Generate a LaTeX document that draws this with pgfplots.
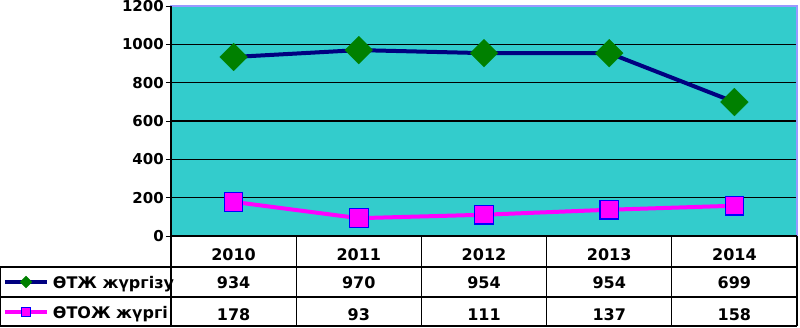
\documentclass[border=0pt]{standalone}
\usepackage{pgfplots}
\pgfplotsset{compat=1.18}
\usepackage{fontspec}
\setmainfont{DejaVu Sans}
\definecolor{plotbg}{HTML}{33CCCC}
\definecolor{frame}{HTML}{9999FF}
\definecolor{navyline}{HTML}{000080}
\definecolor{diag}{HTML}{008000}
\definecolor{mag}{HTML}{FF00FF}
\definecolor{sqedge}{HTML}{0000FF}
\newcommand{\tfont}{\bfseries\fontsize{16}{16}\selectfont}
\begin{document}
\begin{tikzpicture}
\begin{axis}[
  name=ax, scale only axis, width=626pt, height=230pt,
  xmin=-0.5, xmax=4.5, ymin=0, ymax=1200,
  xtick={0,...,4}, xticklabels={2010,2011,2012,2013,2014},
  ytick={0,200,...,1200}, ytick pos=left,
  axis background/.style={fill=plotbg},
  axis line style={draw=frame, line width=2.5pt},
  ymajorgrids, grid style={black, line width=1.2pt},
  tick align=outside, major tick length=5pt,
  ytick style={black, line width=1pt},
  xtick style={draw=none},
  yticklabel style={font=\bfseries\fontsize{15}{15}\selectfont, inner xsep=2pt},
  xticklabel style={font=\tfont, yshift=-3.7pt},
  /pgf/number format/assume math mode=true,
  /pgf/number format/1000 sep={},
  clip=false,
  legend cell align=left,
  legend image code/.code={\draw[mark repeat=2,mark phase=2,mark size=4.3pt] plot coordinates {(0pt,0pt)(21pt,0pt)(42pt,0pt)};},
  legend style={at={(axis description cs:-0.2684,-0.1348)}, anchor=north west,
    draw=none, fill=none, inner sep=0pt, outer sep=0pt, column sep=0pt, row sep=0pt,
    font=\tfont, nodes={text height=12pt, text depth=0pt, inner ysep=9pt, inner xsep=4pt}},
]
\addplot[navyline, line width=4pt, mark=square*, mark size=9.9pt,
  mark options={fill=diag, draw=diag, rotate=45, line width=0.1pt}]
  coordinates {(0,934)(1,970)(2,954)(3,954)(4,699)};
\addlegendentry{ӨТЖ жүргізу}
\addplot[mag, line width=4pt, mark=square*, mark size=9.3pt,
  mark options={fill=mag, draw=sqedge, line width=1.2pt}]
  coordinates {(0,178)(1,93)(2,111)(3,137)(4,158)};
\addlegendentry{ӨТОЖ жүргі}
% table grid
\draw[black, line width=1.2pt] (axis description cs:-0.2732,-0.1348) -- (axis description cs:1,-0.1348);
\draw[black, line width=1.2pt] (axis description cs:-0.2732,-0.2652) -- (axis description cs:1,-0.2652);
\draw[black, line width=1.2pt] (axis description cs:-0.2732,-0.3913) -- (axis description cs:1,-0.3913);
\draw[black, line width=1.2pt] (axis description cs:-0.2722,-0.1348) -- (axis description cs:-0.2722,-0.3913);
\draw[black, line width=1.2pt] (axis description cs:0,1) -- (axis description cs:0,-0.3913);
\draw[black, line width=1.2pt] (axis description cs:0,0) -- (axis description cs:1,0);
\draw[black, line width=1.2pt] (axis description cs:0.2,0) -- (axis description cs:0.2,-0.3913);
\draw[black, line width=1.2pt] (axis description cs:0.4,0) -- (axis description cs:0.4,-0.3913);
\draw[black, line width=1.2pt] (axis description cs:0.6,0) -- (axis description cs:0.6,-0.3913);
\draw[black, line width=1.2pt] (axis description cs:0.8,0) -- (axis description cs:0.8,-0.3913);
\draw[black, line width=1.2pt] (axis description cs:1,0) -- (axis description cs:1,-0.3913);
% table values
\node[font=\tfont, anchor=base] at ([yshift=-52pt]axis cs:0,0) {934};
\node[font=\tfont, anchor=base] at ([yshift=-52pt]axis cs:1,0) {970};
\node[font=\tfont, anchor=base] at ([yshift=-52pt]axis cs:2,0) {954};
\node[font=\tfont, anchor=base] at ([yshift=-52pt]axis cs:3,0) {954};
\node[font=\tfont, anchor=base] at ([yshift=-52pt]axis cs:4,0) {699};
\node[font=\tfont, anchor=base] at ([yshift=-84pt]axis cs:0,0) {178};
\node[font=\tfont, anchor=base] at ([yshift=-84pt]axis cs:1,0) {93};
\node[font=\tfont, anchor=base] at ([yshift=-84pt]axis cs:2,0) {111};
\node[font=\tfont, anchor=base] at ([yshift=-84pt]axis cs:3,0) {137};
\node[font=\tfont, anchor=base] at ([yshift=-84pt]axis cs:4,0) {158};
\coordinate (bbsw) at (axis description cs:-0.27316,-0.39565);
\coordinate (bbne) at (axis description cs:1.00479,1.02609);
\end{axis}
\pgfresetboundingbox
\path (bbsw) rectangle (bbne);
\end{tikzpicture}
\end{document}
